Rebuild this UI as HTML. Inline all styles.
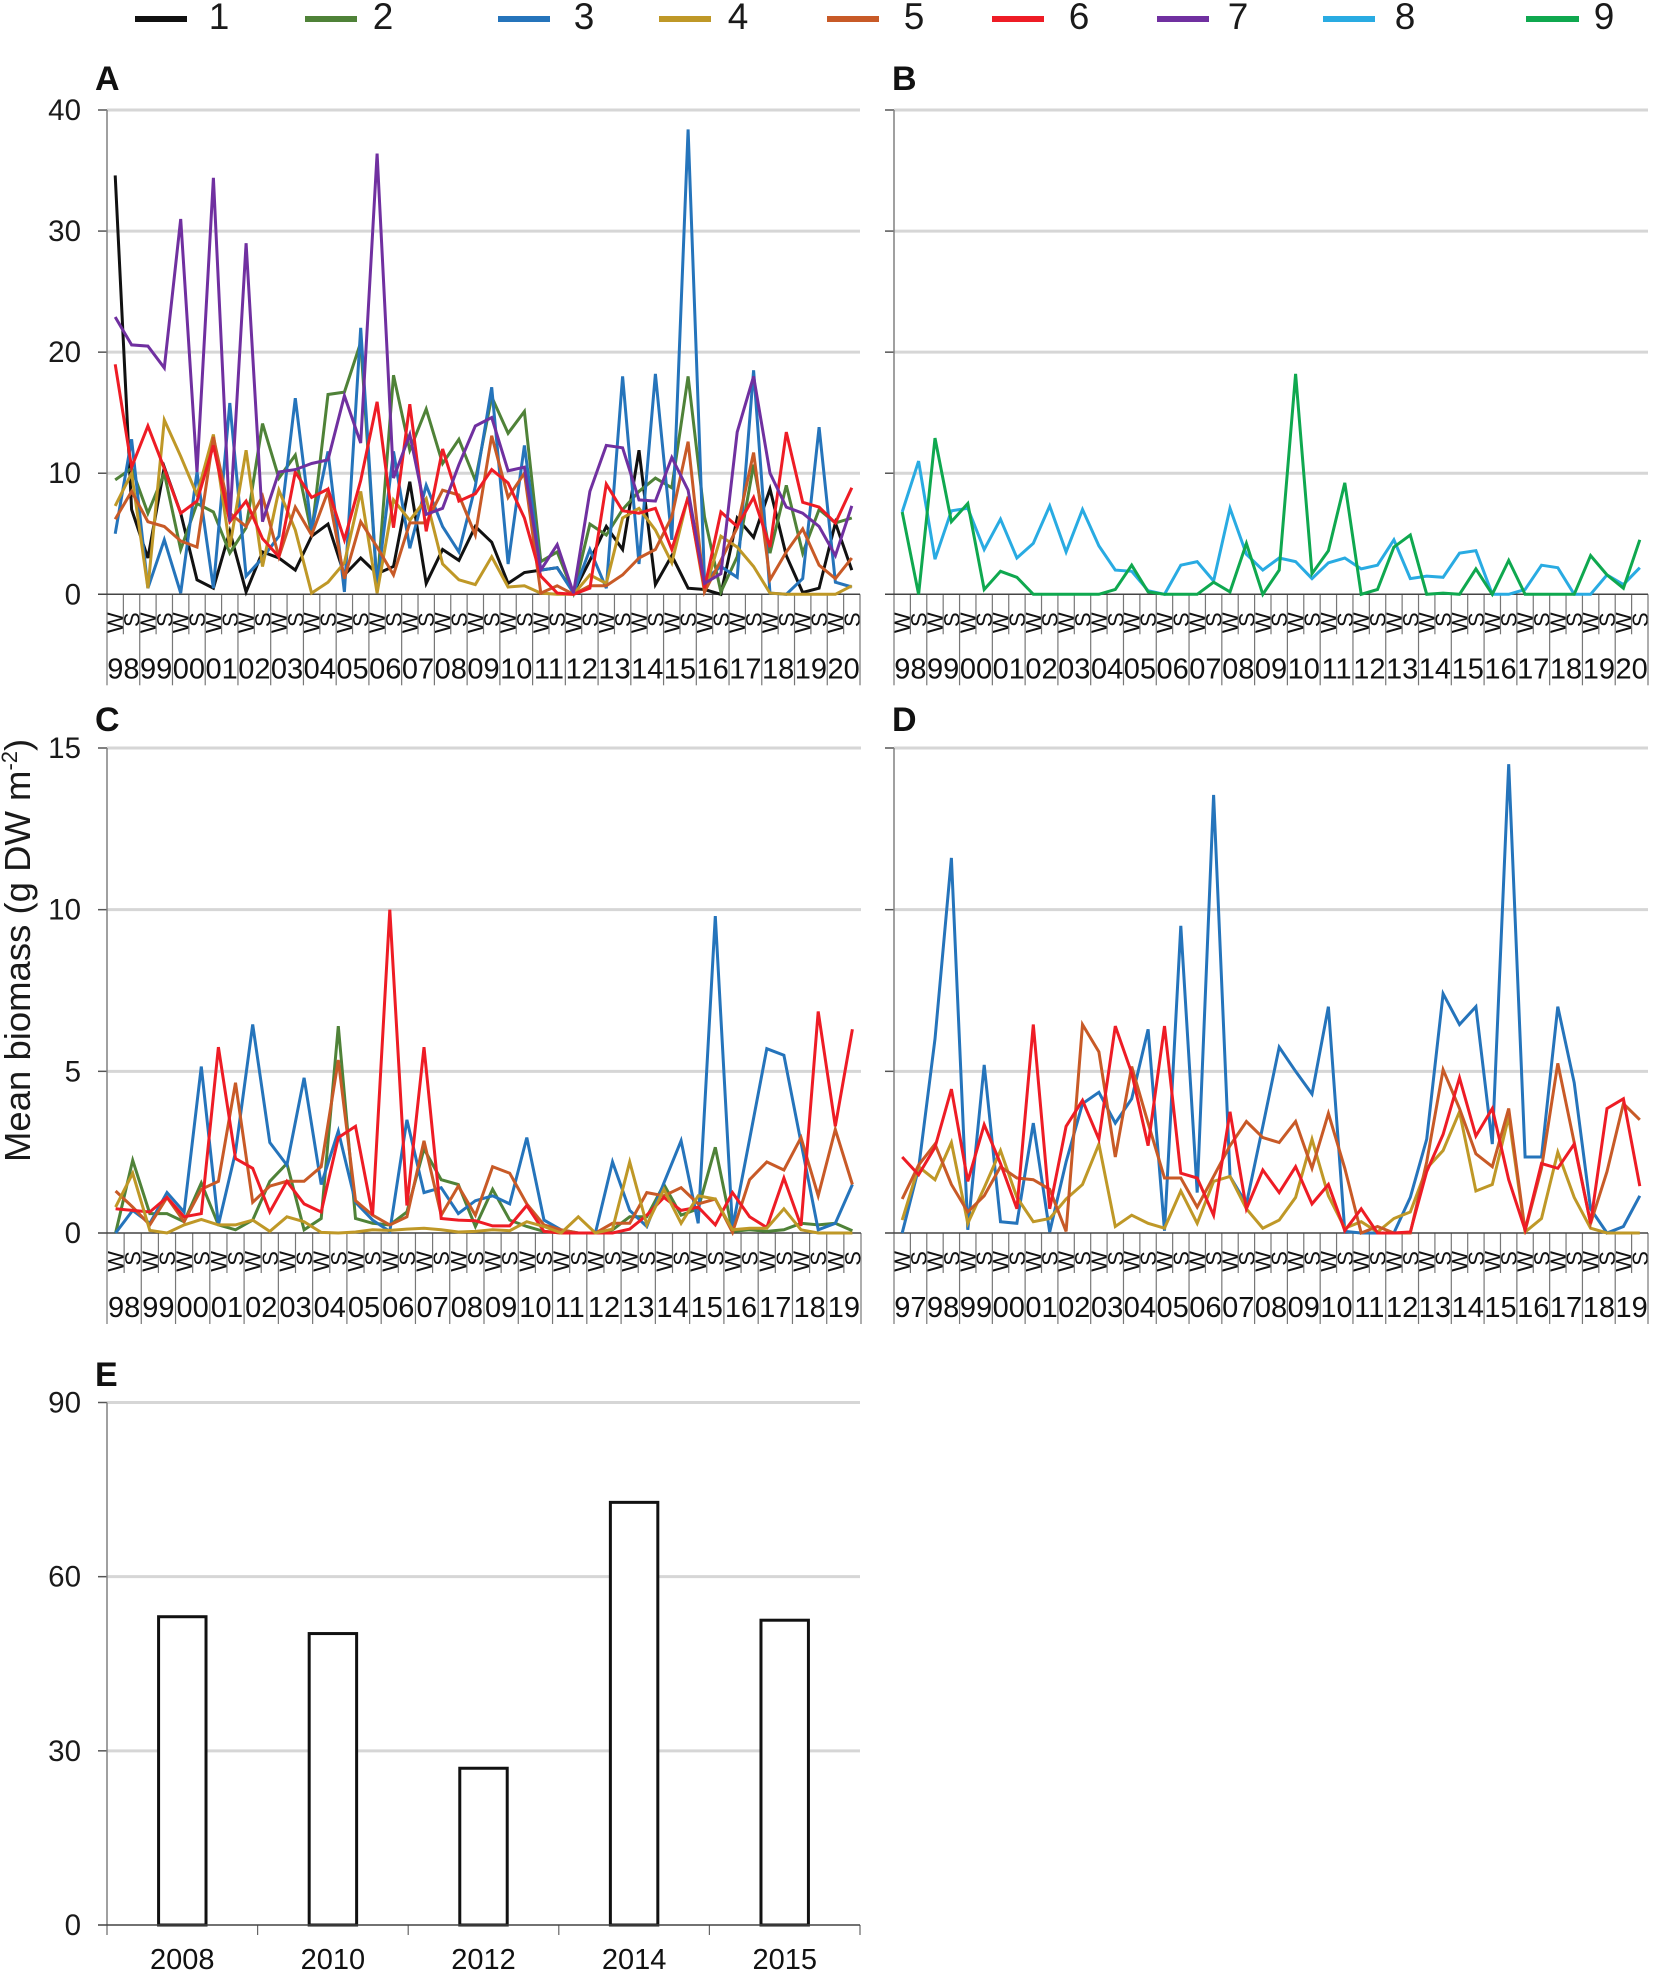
<!DOCTYPE html>
<html lang="en">
<head>
<meta charset="utf-8">
<title>Mean biomass panels A–E</title>
<style>
html,body{margin:0;padding:0;background:#fff;}
svg{display:block;font-family:"Liberation Sans",sans-serif;}
</style>
</head>
<body>
<svg id="figure" xmlns="http://www.w3.org/2000/svg" width="1653" height="1973" viewBox="0 0 1653 1973">
  <rect x="0" y="0" width="1653" height="1973" fill="#fff"/>
  <g id="legend" font-size="37" fill="#1a1a1a">
    <g><rect x="135" y="16" width="52" height="6" fill="#111111"/><text x="219" y="29" text-anchor="middle">1</text></g>
    <g><rect x="305" y="16" width="52" height="6" fill="#4f8238"/><text x="383" y="29" text-anchor="middle">2</text></g>
    <g><rect x="498" y="16" width="52" height="6" fill="#2574bb"/><text x="584" y="29" text-anchor="middle">3</text></g>
    <g><rect x="659" y="16" width="52" height="6" fill="#bf9827"/><text x="738" y="29" text-anchor="middle">4</text></g>
    <g><rect x="827" y="16" width="52" height="6" fill="#c85a27"/><text x="914" y="29" text-anchor="middle">5</text></g>
    <g><rect x="992" y="16" width="52" height="6" fill="#ee1c25"/><text x="1079" y="29" text-anchor="middle">6</text></g>
    <g><rect x="1157" y="16" width="52" height="6" fill="#7030a0"/><text x="1238" y="29" text-anchor="middle">7</text></g>
    <g><rect x="1323" y="16" width="52" height="6" fill="#29abe2"/><text x="1405" y="29" text-anchor="middle">8</text></g>
    <g><rect x="1526" y="16" width="53" height="6" fill="#0fa84f"/><text x="1604" y="29" text-anchor="middle">9</text></g>
  </g>
  <text x="95" y="90" font-size="34" font-weight="bold" fill="#111">A</text>
  <text x="892" y="90" font-size="34" font-weight="bold" fill="#111">B</text>
  <text x="95" y="731" font-size="34" font-weight="bold" fill="#111">C</text>
  <text x="892" y="731" font-size="34" font-weight="bold" fill="#111">D</text>
  <text x="95" y="1386" font-size="34" font-weight="bold" fill="#111">E</text>
  <text transform="translate(30,1162) rotate(-90)" font-size="36.5" fill="#1a1a1a">Mean biomass (g DW m<tspan font-size="22" dy="-13">-2</tspan><tspan dy="13">)</tspan></text>
  <g id="plots"></g>
</svg>
<script>
// ---- Data arrays ----
const yearsA = ["98","99","00","01","02","03","04","05","06","07","08","09","10","11","12","13","14","15","16","17","18","19","20"];
const yearsC = ["98","99","00","01","02","03","04","05","06","07","08","09","10","11","12","13","14","15","16","17","18","19"];
const yearsD = ["97","98","99","00","01","02","03","04","05","06","07","08","09","10","11","12","13","14","15","16","17","18","19"];
const seasons = ["W","S"];
const ticksAB = [0,10,20,30,40];
const tickLabelsA = ["0","10","20","30","40"];
const ticksCD = [0,5,10,15];
const tickLabelsC = ["0","5","10","15"];
const ticksE = [0,30,60,90];
const tickLabelsE = ["0","30","60","90"];

const a1 = [34.6,7,3,10.5,6.7,1.2,0.5,5.2,0.2,3.5,3,2,4.8,5.8,1.6,3,1.7,2.3,9.3,0.9,3.7,2.8,5.6,4.3,0.9,1.8,2,2.2,0.15,2.8,5.6,3.7,11.9,0.8,3.2,0.5,0.4,0,6.3,4.7,8.7,3.2,0.15,0.5,5.9,2];
const a2 = [9.45,10.4,6.7,10,3.7,7.5,6.8,3.4,5.5,14.1,9.6,11.5,5,16.5,16.7,20.8,0.6,18.1,11.9,15.3,10.8,12.8,9.4,16.3,13.3,15.1,2.7,3.5,0.1,5.8,4.9,7,8.5,9.6,8.8,18,6.4,0.2,3.1,10.7,3.4,9,3.4,7,5.9,6.3];
const a3 = [5,12.8,0.5,4.5,0.1,10.1,0.5,15.8,1.5,3,4.8,16.2,5.3,11.8,0.2,22,0.6,11.8,3.8,9,5.6,3.5,8.9,17.1,2.5,12.3,2,2.2,0.1,3.7,0.5,18,2.5,18.2,4.5,38.4,1.2,2.3,1.4,18.5,0.1,0,1.3,13.8,1,0.6];
const a4 = [7.3,10,0.5,14.4,11.4,8.2,13.2,3.9,11.9,2.3,8.6,5.3,0.1,1,2.6,8.5,0.1,7.8,6.1,7.9,2.5,1.2,0.8,3.1,0.6,0.7,0.1,0,0,1.6,0.9,6.3,7.1,5.3,2.6,8.1,0.2,4.8,3.9,2.3,0.1,0,0,0,0,0.7];
const a5 = [6.2,8.5,6,5.6,4.4,3.9,13,6.7,5.6,8.1,3.1,7.2,4.9,8.5,1.3,6,3.9,1.6,5.9,5.9,8.6,8.2,4.9,13.1,8,10,0.1,0.7,0,0.7,0.7,1.6,3,3.7,6.4,12.6,0.2,2.8,5.5,11.7,1.2,3.5,5.4,2.4,1.3,3];
const a6 = [19,10.5,13.9,10.4,6.7,7.7,12.3,6,7.7,4.6,3.1,10.1,8,8.7,4.5,9.4,15.9,5.5,15.7,5.2,12,7.7,8.3,10.3,9.2,6.3,1.5,0.1,0,0.5,9.1,6.9,6.7,7.1,3.7,8,0.5,6.8,5.6,8,3.9,13.4,7.6,7.2,5.9,8.8];
const a7 = [22.9,20.6,20.5,18.7,31,10.1,34.4,6,29,6,10.1,10.3,10.8,11.1,16.4,12.5,36.4,9.6,13.2,6.6,7.1,10.7,13.9,14.6,10.2,10.5,2,4.1,0.1,8.5,12.3,12.1,7.8,7.7,11.3,8.6,0.9,1.7,13.4,18,10,7.2,6.7,5.6,3.2,7.3];

const b8 = [6.8,11,2.9,6.9,7.1,3.7,6.2,3,4.2,7.3,3.5,7,4,2,1.9,0.3,0,2.4,2.7,1.1,7.1,3.3,2,3,2.7,1.3,2.6,3,2.1,2.4,4.5,1.3,1.5,1.4,3.4,3.6,0,0,0.4,2.4,2.2,0,0,1.6,0.8,2.2];
const b9 = [6.8,0,12.9,6,7.5,0.4,1.9,1.4,0,0,0,0,0,0.4,2.4,0.2,0,0,0,1,0.2,4.2,0,2,18.2,1.7,3.6,9.2,0,0.4,3.9,4.9,0,0.1,0,2.1,0,2.8,0,0,0,0,3.2,1.6,0.5,4.5];

const c2 = [0,2.25,0.6,0.6,0.35,1.55,0.25,0.1,0.4,1.6,2.15,0.1,0.45,6.4,0.45,0.3,0.25,0.65,2.6,1.65,1.5,0.2,1.35,0.4,0.2,0.05,0,0,0,0.1,0.5,0.5,1.5,0.55,0.75,2.65,0.05,0.1,0.05,0.1,0.3,0.25,0.3,0.07];
const c3 = [0,0.7,0.3,1.25,0.65,5.15,0.25,2.5,6.45,2.8,2.1,4.8,1.5,3.15,0.95,0.4,0.05,3.5,1.25,1.4,0.6,1,1.15,0.9,2.95,0.4,0.1,0,0,2.2,0.7,0.2,1.55,2.85,0.3,9.8,0.15,2.9,5.7,5.5,2.8,0.1,0.3,1.5];
const c4 = [0.8,1.85,0.08,0,0.25,0.42,0.25,0.25,0.4,0.05,0.5,0.35,0.02,0,0.03,0.1,0.08,0.12,0.15,0.1,0.03,0.05,0.1,0.07,0.35,0.2,0,0.5,0,0.12,2.2,0.25,1.35,0.3,1.15,1.05,0.1,0.15,0.15,0.75,0.1,0,0,0];
const c5 = [1.3,0.8,0.25,1.1,0.35,1.35,1.6,4.65,0.95,1.45,1.6,1.6,2.05,5.35,1,0.55,0.25,0.5,2.85,0.55,1.45,0.55,2.05,1.85,0.9,0.25,0.1,0,0,0.3,0.3,1.25,1.15,1.4,0.9,1.05,0.02,1.65,2.2,1.95,2.95,1.15,3.2,1.5];
const c6 = [0.75,0.7,0.65,1.1,0.5,0.6,5.75,2.3,2,0.65,1.6,0.9,0.65,2.95,3.3,0.55,10,0.85,5.75,0.45,0.4,0.38,0.22,0.22,0.85,0.05,0,0,0,0,0.12,0.55,1.1,0.7,0.8,0.25,1.25,0.5,0.17,1.7,0.22,6.85,3.3,6.3];

const d3 = [0,2,6,11.6,0.1,5.2,0.35,0.3,3.4,0.03,2.2,4,4.35,3.4,4.15,6.3,0.07,9.5,1.25,13.55,1.75,0.9,3.3,5.75,5,4.3,7,0.05,0,0,0,1.1,2.9,7.4,6.45,7,2.75,14.5,2.35,2.35,7,4.65,0.75,0,0.2,1.15];
const d4 = [0.4,2.05,1.65,2.8,0.3,1.4,2.55,1.1,0.35,0.45,1.05,1.5,2.75,0.2,0.55,0.3,0.15,1.3,0.3,1.6,1.75,0.75,0.15,0.4,1.1,2.9,1.15,0.15,0.35,0.03,0.45,0.65,2,2.55,3.75,1.3,1.5,3.6,0.03,0.45,2.5,1.1,0.15,0,0,0];
const d5 = [1.05,2.1,2.75,1.5,0.65,1.15,2.05,1.7,1.65,1.35,0.05,6.45,5.6,2.35,5.15,3.4,1.7,1.7,0.8,1.75,2.7,3.45,2.95,2.8,3.45,2,3.7,2,0,0.2,0,0,2.2,5.05,3.85,2.45,2.05,3.85,0.07,2,5.25,2.8,0.3,1.9,4,3.5];
const d6 = [2.35,1.8,2.65,4.45,1.6,3.35,2.15,0.75,6.45,0.75,3.3,4.1,2.9,6.4,4.95,2.7,6.4,1.85,1.7,0.55,3.75,0.75,1.95,1.25,2.05,0.9,1.5,0.07,0.75,0,0,0.03,1.9,3.05,4.8,3,3.85,1.65,0.1,2.15,2,2.75,0.3,3.85,4.15,1.45];

const barYears = ["2008","2010","2012","2014","2015"];
const barValues = [53.1,50.2,27,72.8,52.5];

// ---- Drawing ----
const NS = "http://www.w3.org/2000/svg";
const plots = document.getElementById("plots");
const seriesColors = {s1:"#111111",s2:"#4f8238",s3:"#2574bb",s4:"#bf9827",s5:"#c85a27",s6:"#ee1c25",s7:"#7030a0",s8:"#29abe2",s9:"#0fa84f"};

function mk(parent, tag, attrs, text) {
  const el = document.createElementNS(NS, tag);
  for (const k in attrs) el.setAttribute(k, attrs[k]);
  if (text !== undefined) el.textContent = text;
  parent.appendChild(el);
  return el;
}

function yScaleFor(cfg) {
  return function (v) { return cfg.y0 - (v / cfg.yMax) * (cfg.y0 - cfg.yTop); };
}

function drawYAxis(g, cfg, ticks, labels) {
  const y = yScaleFor(cfg);
  ticks.forEach(function (t, i) {
    if (t !== 0) {
      const grid = mk(g, "line", {x1: cfg.left, x2: cfg.right, y1: y(t), y2: y(t), stroke: "#d6d6d6", "stroke-width": 3});
      
      
      const tick = mk(g, "line", {x1: cfg.left - 9, x2: cfg.left, y1: y(t), y2: y(t), stroke: "#555", "stroke-width": 1.5});
      
      
    }
    if (cfg.showLabels) {
      const lab = mk(g, "text", {x: 81, y: y(t) + 10, "text-anchor": "end", "font-size": 29.5, fill: "#1a1a1a"}, labels[i]);
      
      
    }
  });
  const axis = mk(g, "line", {x1: cfg.left, x2: cfg.left, y1: cfg.yTop, y2: cfg.y0, stroke: "#808080", "stroke-width": 1.5});
  
  
}

function drawLinePanel(name, cfg, years, ticks, labels, series) {
  const g = mk(plots, "g", {});
  
  
  const n = years.length * seasons.length;
  const step = (cfg.right - cfg.left) / n;
  const x = function (i) { return cfg.left + step * (i + 0.5); };
  const y = yScaleFor(cfg);
  drawYAxis(g, cfg, ticks, labels);

  years.forEach(function (yr, k) {
    seasons.forEach(function (s, j) {
      const idx = k * seasons.length + j;
      const lab = mk(g, "text", {transform: "translate(" + (x(idx) + 8) + "," + (cfg.y0 + 18) + ") rotate(-90)", "text-anchor": "end", "font-size": 22, fill: "#111"}, s);
      
      
    });
    const mid = mk(g, "line", {x1: cfg.left + step * (2 * k + 1), x2: cfg.left + step * (2 * k + 1), y1: cfg.y0, y2: cfg.y0 + 40, stroke: "#777", "stroke-width": 1.2});
    
    
    const bound = mk(g, "line", {x1: cfg.left + step * 2 * k, x2: cfg.left + step * 2 * k, y1: cfg.y0, y2: cfg.y0 + 91, stroke: "#777", "stroke-width": 1.2});
    
    
    const yl = mk(g, "text", {x: cfg.left + step * (2 * k + 1), y: cfg.y0 + 84, "text-anchor": "middle", "font-size": 29, fill: "#111"}, yr);
    
    
  });
  const lastTick = mk(g, "line", {x1: cfg.right, x2: cfg.right, y1: cfg.y0, y2: cfg.y0 + 91, stroke: "#777", "stroke-width": 1.2});
  
  
  const base = mk(g, "line", {x1: cfg.left - 9, x2: cfg.right, y1: cfg.y0, y2: cfg.y0, stroke: "#444", "stroke-width": 1.5});
  
  

  series.forEach(function (sr) {
    const pts = sr.values.map(function (v, i) { return x(i).toFixed(1) + "," + y(v).toFixed(1); }).join(" ");
    const line = mk(g, "polyline", {points: pts, fill: "none", stroke: seriesColors[sr.key], "stroke-width": 3, "stroke-linejoin": "miter"});
    
    
  });
}

function drawBarPanel(name, cfg, cats, vals, ticks, labels) {
  const g = mk(plots, "g", {});
  
  
  const step = (cfg.right - cfg.left) / cats.length;
  const y = yScaleFor(cfg);
  drawYAxis(g, cfg, ticks, labels);
  const barW = step * 0.315;
  cats.forEach(function (c, i) {
    const cx = cfg.left + step * (i + 0.5);
    const bar = mk(g, "rect", {x: cx - barW / 2, y: y(vals[i]), width: barW, height: cfg.y0 - y(vals[i]), fill: "#fff", stroke: "#111", "stroke-width": 3});
    
    
    const lab = mk(g, "text", {x: cx, y: cfg.y0 + 44, "text-anchor": "middle", "font-size": 29, fill: "#111"}, c);
    
    
    const tick = mk(g, "line", {x1: cfg.left + step * i, x2: cfg.left + step * i, y1: cfg.y0, y2: cfg.y0 + 10, stroke: "#666", "stroke-width": 1.2});
    
    
  });
  const endTick = mk(g, "line", {x1: cfg.right, x2: cfg.right, y1: cfg.y0, y2: cfg.y0 + 10, stroke: "#666", "stroke-width": 1.2});
  
  
  const base = mk(g, "line", {x1: cfg.left - 9, x2: cfg.right, y1: cfg.y0, y2: cfg.y0, stroke: "#444", "stroke-width": 1.5});
  
  
}

drawLinePanel("a", {left:107, right:860, y0:594.3, yTop:110, yMax:40, showLabels:true}, yearsA, ticksAB, tickLabelsA,
  [{key:"s1",values:a1},{key:"s2",values:a2},{key:"s3",values:a3},{key:"s4",values:a4},{key:"s5",values:a5},{key:"s6",values:a6},{key:"s7",values:a7}]);
drawLinePanel("b", {left:894, right:1648, y0:594.3, yTop:110, yMax:40, showLabels:false}, yearsA, ticksAB, tickLabelsA,
  [{key:"s8",values:b8},{key:"s9",values:b9}]);
drawLinePanel("c", {left:107, right:861, y0:1233, yTop:748, yMax:15, showLabels:true}, yearsC, ticksCD, tickLabelsC,
  [{key:"s2",values:c2},{key:"s3",values:c3},{key:"s5",values:c5},{key:"s6",values:c6},{key:"s4",values:c4}]);
drawLinePanel("d", {left:894, right:1648, y0:1233, yTop:748, yMax:15, showLabels:false}, yearsD, ticksCD, tickLabelsC,
  [{key:"s3",values:d3},{key:"s4",values:d4},{key:"s5",values:d5},{key:"s6",values:d6}]);
drawBarPanel("e", {left:107, right:860, y0:1925, yTop:1402.5, yMax:90, showLabels:true}, barYears, barValues, ticksE, tickLabelsE);
</script>
</body>
</html>
